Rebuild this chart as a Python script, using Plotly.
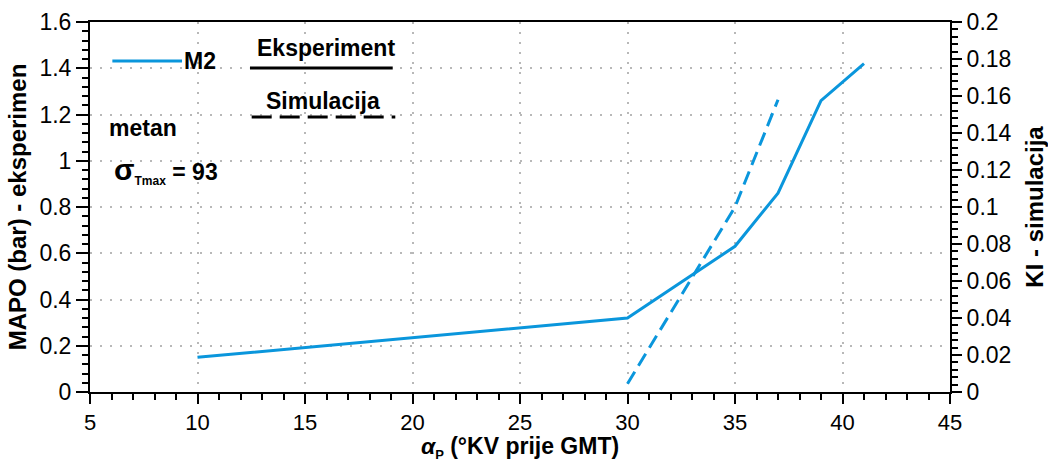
import plotly.graph_objects as go

# Experiment (MAPO, left axis)
alpha_exp = [10, 30, 35, 37, 39, 41]
mapo_exp = [0.15, 0.32, 0.63, 0.86, 1.26, 1.42]

# Simulation (KI, right axis)
alpha_sim = [30, 35, 37]
ki_sim = [0.0045, 0.1, 0.158]

BLUE = "#0a96dc"
FONT = "Liberation Sans, Arial, sans-serif"
GRID = "#b8b8b8"

fig = go.Figure()
fig.add_trace(go.Scatter(x=alpha_exp, y=mapo_exp, mode="lines",
                         line=dict(color=BLUE, width=3), yaxis="y",
                         showlegend=False))
fig.add_trace(go.Scatter(x=alpha_sim, y=ki_sim, mode="lines",
                         line=dict(color=BLUE, width=3, dash="14px,7px"),
                         yaxis="y2", showlegend=False))

tickfont = dict(family=FONT, size=23, color="black")

fig.update_layout(
    width=1048, height=462,
    margin=dict(l=90, r=98, t=22, b=70, autoexpand=False),
    paper_bgcolor="white", plot_bgcolor="white",
    font=dict(family=FONT, color="black"),
    xaxis=dict(range=[5, 45], dtick=5, tick0=5, showline=True, linecolor="black",
               linewidth=2, mirror=True, ticks="outside", ticklen=10, tickwidth=2,
               tickcolor="black", tickfont=dict(family=FONT, size=22, color="black"),
               automargin=False,
               showgrid=True, gridcolor=GRID, griddash="2px,8px", gridwidth=2,
               zeroline=False,
               minor=dict(dtick=1, ticks="outside", ticklen=6, tickwidth=1.5,
                          tickcolor="black", showgrid=False),
               title=dict(text="<i>α</i><sub><span style='font-size:13px'>P</span></sub> (°KV prije GMT)",
                          font=dict(family=FONT, size=23, color="black", weight="bold"),
                          standoff=3)),
    yaxis=dict(range=[0, 1.6], dtick=0.2, showline=True, linecolor="black",
               linewidth=2, ticks="outside", ticklen=12, tickwidth=2,
               tickcolor="black", tickfont=tickfont, automargin=False,
               showgrid=True, gridcolor=GRID, griddash="2px,8px", gridwidth=2,
               zeroline=False,
               minor=dict(dtick=0.04, ticks="outside", ticklen=6, tickwidth=1.5,
                          tickcolor="black", showgrid=False),
               title=dict(text="MAPO (bar) - eksperimen",
                          font=dict(family=FONT, size=24, color="black", weight="bold"),
                          standoff=6)),
    yaxis2=dict(range=[0, 0.2], dtick=0.02, overlaying="y", side="right",
                showline=True, linecolor="black", linewidth=2, ticks="outside",
                ticklen=10, tickwidth=2, tickcolor="black", tickfont=tickfont,
                automargin=False, showgrid=False, zeroline=False,
                minor=dict(dtick=0.004, ticks="outside", ticklen=6, tickwidth=1.5,
                           tickcolor="black"),
                title=dict(text="KI - simulacija",
                           font=dict(family=FONT, size=24, color="black", weight="bold"),
                           standoff=16)),
)

# Key drawn inside the plot area
shape_ref = dict(xref="x domain", yref="y domain")
fig.add_shape(type="line", x0=0.026, x1=0.107, y0=0.8946, y1=0.8946,
              line=dict(color=BLUE, width=3), **shape_ref)
fig.add_shape(type="line", x0=0.186, x1=0.352, y0=0.8757, y1=0.8757,
              line=dict(color="black", width=3), **shape_ref)
fig.add_shape(type="line", x0=0.188, x1=0.355, y0=0.743, y1=0.743,
              line=dict(color="black", width=3, dash="20px,8px"), **shape_ref)

bold = dict(family=FONT, size=23, color="black", weight="bold")
fig.add_annotation(x=0.107, y=0.8946, xref="x domain", yref="y domain",
                   text="M2", showarrow=False, xanchor="left", yanchor="middle",
                   font=bold)
fig.add_annotation(x=0.274, y=0.93, xref="x domain", yref="y domain",
                   text="Eksperiment", showarrow=False, xanchor="center",
                   yanchor="middle", font=bold)
fig.add_annotation(x=0.271, y=0.786, xref="x domain", yref="y domain",
                   text="Simulacija", showarrow=False, xanchor="center",
                   yanchor="middle", font=bold)
fig.add_annotation(x=0.02, y=0.7135, xref="x domain", yref="y domain",
                   text="metan", showarrow=False, xanchor="left",
                   yanchor="middle", font=bold)
fig.add_annotation(x=0.026, y=0.6, xref="x domain", yref="y domain",
                   text="<span style='font-size:30px'>σ</span><sub><span style='font-size:12px'>Tmax</span></sub> = 93",
                   showarrow=False, xanchor="left", yanchor="middle", font=bold)

fig.write_html("out.html")
